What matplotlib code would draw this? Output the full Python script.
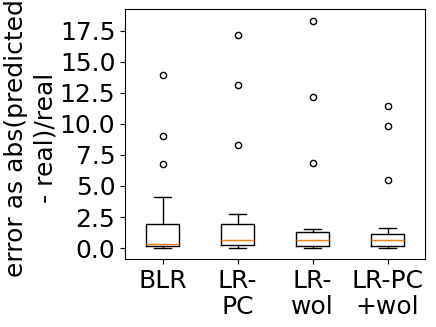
import matplotlib
matplotlib.use("Agg")
import matplotlib.pyplot as plt

# box statistics
labels = ["BLR", "LR-\nPC", "LR-\nwol", "LR-PC\n+wol"]
whislo = [0.02, 0.01, 0.02, 0.02]
q1 = [0.19, 0.24, 0.13, 0.19]
med = [0.35, 0.64, 0.61, 0.61]
q3 = [1.90, 1.93, 1.31, 1.13]
whishi = [4.08, 2.76, 1.55, 1.61]
fliers = [
    [13.95, 8.99, 6.76],
    [17.12, 13.12, 8.26],
    [18.30, 12.16, 6.84],
    [11.43, 9.85, 5.44],
]

stats = []
for i, lab in enumerate(labels):
    stats.append({
        'label': lab,
        'whislo': whislo[i],
        'q1': q1[i],
        'med': med[i],
        'q3': q3[i],
        'whishi': whishi[i],
        'fliers': fliers[i],
    })

fig = plt.figure(figsize=(4.36, 3.27), dpi=100)
ax = fig.add_axes([0.2867, 0.207, 0.6883, 0.7646])

lw = 1.0
ax.bxp(stats, widths=0.44,
       boxprops=dict(linewidth=lw),
       whiskerprops=dict(linewidth=lw),
       capprops=dict(linewidth=lw),
       medianprops=dict(linewidth=lw, color='#ff7f0e'),
       flierprops=dict(marker='o', markersize=4.5, markerfacecolor='none',
                       markeredgecolor='black', markeredgewidth=1.0))

ax.set_yticks([0.0, 2.5, 5.0, 7.5, 10.0, 12.5, 15.0, 17.5])
ax.tick_params(axis='both', labelsize=18)
for t in ax.get_xticklabels():
    t.set_linespacing(1.1)
ax.set_ylabel("error as abs(predicted\n- real)/real", fontsize=18, linespacing=1.3)
ax.yaxis.set_label_coords(-0.225, 0.485)

plt.savefig("out.png", dpi=100)
